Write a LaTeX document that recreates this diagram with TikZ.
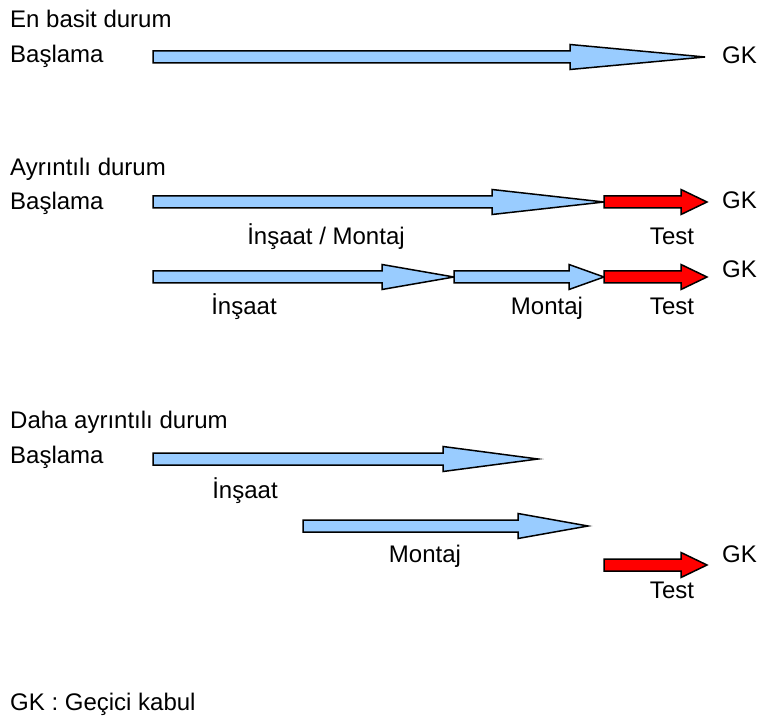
\documentclass[tikz,border=0pt]{standalone}
\usepackage{fontspec}
\setmainfont{Liberation Sans}
\definecolor{arrblue}{HTML}{99CCFF}
\definecolor{arrred}{HTML}{FF0000}
\newcommand{\barrow}[6]{% name, fill, tail x, head base x, tip x, y
\draw[blockarrow,fill=#2] (#3,#6-6) -- (#4,#6-6) -- (#4,#6-12.5) -- (#5,#6) -- (#4,#6+12.5) -- (#4,#6+6) -- (#3,#6+6) -- cycle;
\coordinate (#1) at (#5,#6);}
\begin{document}
\begin{tikzpicture}[x=1pt,y=-1pt,
  blockarrow/.style={draw=black,line width=1.5pt,line join=miter},
  lbl/.style={inner sep=0pt,anchor=base west,font=\fontsize{24}{28}\selectfont},
  clbl/.style={inner sep=0pt,anchor=base,font=\fontsize{24}{28}\selectfont}]
\useasboundingbox (0,0) rectangle (766,722);
% Row 1
\node[lbl] (t1) at (10,28) {En basit durum};
\node[lbl] (b1) at (10,63) {Başlama};
\barrow{a1}{arrblue}{153}{570}{705}{57}
\node[lbl] (gk1) at (722,64) {GK};
% Row 2
\node[lbl] (t2) at (10,176) {Ayrıntılı durum};
\node[lbl] (b2) at (10,210) {Başlama};
\barrow{a2}{arrblue}{153}{492}{604}{202}
\barrow{a3}{arrred}{604}{681}{707}{202}
\node[lbl] (gk2) at (722,209) {GK};
\node[clbl] (l2) at (326,245) {İnşaat / Montaj};
\node[clbl] (tst2) at (672,244) {Test};
% Row 3
\barrow{a4}{arrblue}{153}{382}{454}{277}
\barrow{a5}{arrblue}{454}{569}{604}{277}
\barrow{a6}{arrred}{604}{681}{707}{277}
\node[lbl] (gk3) at (722,277) {GK};
\node[clbl] (l3a) at (244,314) {İnşaat};
\node[clbl] (l3b) at (547,314) {Montaj};
\node[clbl] (tst3) at (672,314) {Test};
% Row 4
\node[lbl] (t4) at (10,428) {Daha ayrıntılı durum};
\node[lbl] (b4) at (10,463) {Başlama};
\barrow{a7}{arrblue}{153}{443}{538}{459}
\node[clbl] (l4a) at (245,498) {İnşaat};
\barrow{a8}{arrblue}{303}{518}{588}{526}
\node[clbl] (l4b) at (425,562) {Montaj};
\barrow{a9}{arrred}{604}{681}{707}{565}
\node[lbl] (gk4) at (722,562) {GK};
\node[clbl] (tst4) at (672,598) {Test};
% Legend
\node[lbl] (leg) at (10,710) {GK : Geçici kabul};
\end{tikzpicture}
\end{document}
